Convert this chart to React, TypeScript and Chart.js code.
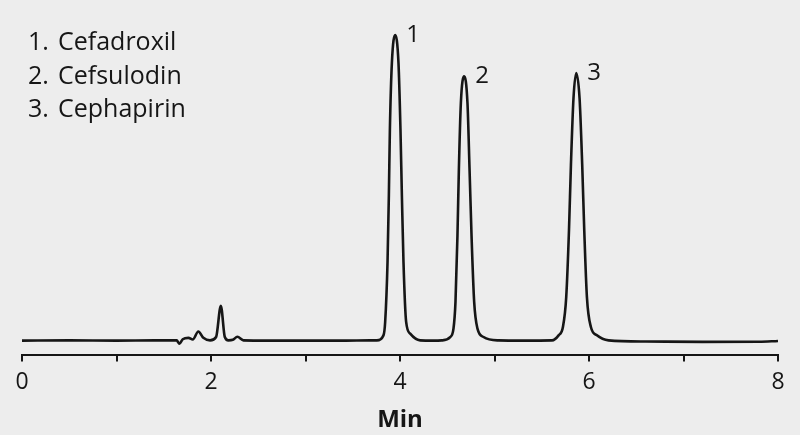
import React, { useEffect, useRef } from "react";
import { Chart, registerables } from "chart.js";

Chart.register(...registerables);

// Retention time (min) and detector signal (arbitrary units)
const times: number[] = [
  0, 0.5, 1.0, 1.4, 1.637, 1.666, 1.701, 1.761, 1.807, 1.866, 1.919, 1.99, 2.054, 2.104, 2.146, 2.184, 2.231, 2.279, 2.343,
  2.6, 3.0, 3.4, 3.684, 3.755, 3.825, 3.843, 3.868, 3.882, 3.893, 3.914, 3.949, 3.984, 4.005, 4.02, 4.037, 4.065, 4.108, 4.213,
  4.35, 4.443, 4.531, 4.566, 4.587, 4.608, 4.623, 4.644, 4.679, 4.714, 4.736, 4.757, 4.785, 4.82, 4.884, 5.042,
  5.3, 5.608, 5.678, 5.724, 5.759, 5.788, 5.809, 5.836, 5.865, 5.9, 5.928, 5.95, 5.978, 6.02, 6.084, 6.207,
  6.6, 7.2, 7.8, 8.0,
];
const signal: number[] = [
  0, 0.1, 0, 0.1, 0.1, -1.1, 0.5, 1.0, 0.4, 3.3, 1.0, 0.1, 1.3, 12.5, 1.3, 0.1, 0.3, 1.4, 0.1,
  0, 0, 0, 0.1, 0.1, 1.9, 6.7, 28.1, 51.9, 75.7, 99.5, 109.6, 99.5, 75.7, 51.9, 28.1, 6.7, 2.5, 0.1,
  0, 0.1, 1.3, 4.3, 13.8, 37.6, 61.4, 85.2, 94.8, 85.2, 61.4, 37.6, 13.8, 4.3, 1.3, 0.1,
  0, 0.1, 1.9, 4.9, 15.6, 39.4, 63.2, 87.0, 96.0, 87.0, 63.2, 39.4, 15.6, 4.9, 1.9, 0.1,
  -0.3, -0.45, -0.4, -0.1,
];

const xTickLabels: string[] = ["0", "", "2", "", "4", "", "6", "", "8"];
const axisTitle = "Min";

const legendNumbers: string[] = ["1.", "2.", "3."];
const compoundNames: string[] = ["Cefadroxil", "Cefsulodin", "Cephapirin"];

const peakLabels: string[] = ["1", "2", "3"];
const peakTimes: number[] = [3.949, 4.679, 5.865];
const peakHeights: number[] = [109.6, 94.8, 96.0];

const FONT = "'Open Sans', 'Noto Sans', sans-serif";
const INK = "#161616";

const annotations = {
  id: "annotations",
  afterDatasetsDraw(chart: any) {
    const ctx = chart.ctx;
    const xs = chart.scales.x;
    const ys = chart.scales.y;
    ctx.save();
    ctx.fillStyle = INK;
    ctx.textBaseline = "alphabetic";
    ctx.textAlign = "left";
    ctx.font = `25px ${FONT}`;
    legendNumbers.forEach((n, i) => {
      const y = 50 + i * 33.7;
      ctx.fillText(n, 28, y);
      ctx.fillText(compoundNames[i], 58, y);
    });
    ctx.font = `24px ${FONT}`;
    peakLabels.forEach((l, i) => {
      const px = xs.getPixelForValue(peakTimes[i]);
      const py = ys.getPixelForValue(peakHeights[i]);
      ctx.fillText(l, px + 11, py + 7);
    });
    ctx.restore();
  },
};

export default function App() {
  const ref = useRef<HTMLCanvasElement | null>(null);
  useEffect(() => {
    document.body.style.margin = "0";
    const canvas = ref.current;
    if (!canvas) return;
    const chart = new Chart(canvas, {
      type: "line",
      data: {
        datasets: [
          {
            data: times.map((t, i) => ({ x: t, y: signal[i] })),
            borderColor: INK,
            borderWidth: 2.6,
            pointRadius: 0,
            cubicInterpolationMode: "monotone",
            fill: false,
          },
        ],
      },
      options: {
        animation: false,
        responsive: false,
        maintainAspectRatio: false,
        layout: { padding: { left: 22, right: 22, top: 6, bottom: 0 } },
        plugins: { legend: { display: false }, tooltip: { enabled: false } },
        scales: {
          x: {
            type: "linear",
            min: 0,
            max: 8,
            border: { display: true, color: INK, width: 2 },
            grid: {
              display: true,
              drawOnChartArea: false,
              drawTicks: true,
              tickLength: 7,
              color: INK,
              lineWidth: 2,
            },
            ticks: {
              stepSize: 1,
              autoSkip: false,
              maxRotation: 0,
              padding: 7,
              color: INK,
              font: { family: FONT, size: 23 },
              callback: (_v: any, idx: number) => xTickLabels[idx] ?? "",
            },
            title: {
              display: true,
              text: axisTitle,
              color: INK,
              font: { family: FONT, size: 24, weight: "bold" },
              padding: { top: 3, bottom: 0 },
            },
          },
          y: { display: false, min: -5, max: 120 },
        },
      },
      plugins: [annotations],
    } as any);
    return () => chart.destroy();
  }, []);
  return (
    <div style={{ width: 800, height: 435, background: "#ededed", position: "relative" }}>
      <canvas ref={ref} width={800} height={435} style={{ display: "block" }} />
    </div>
  );
}
